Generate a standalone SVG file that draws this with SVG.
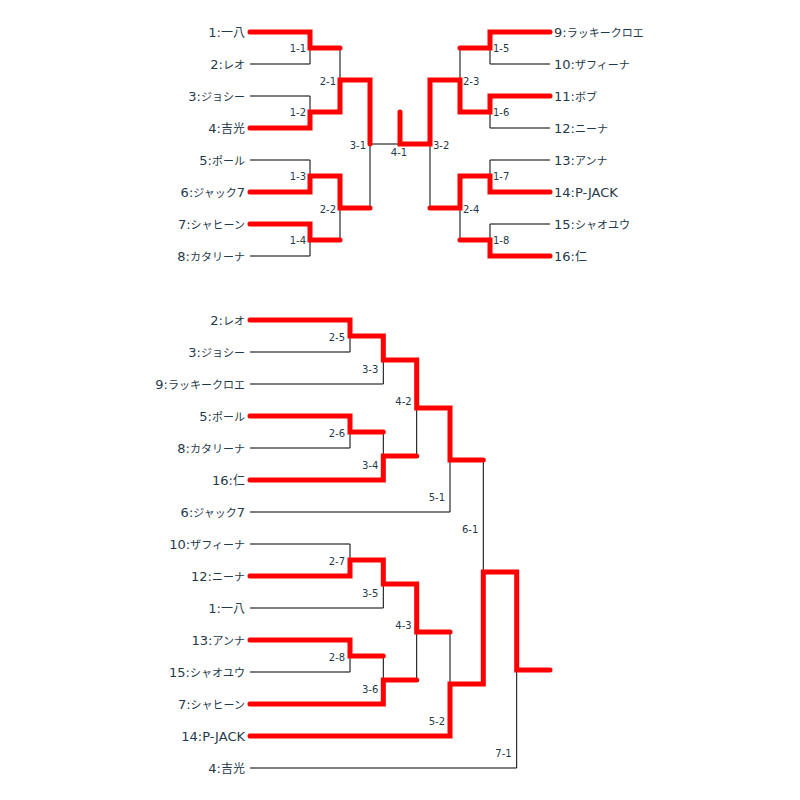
<svg xmlns="http://www.w3.org/2000/svg" width="800" height="800" viewBox="0 0 800 800">
<style>
.bg{fill:#ffffff}
.ln{fill:none;stroke:#000000;stroke-width:1}
.win{fill:none;stroke:#ff0000;stroke-width:5;stroke-linecap:round;stroke-linejoin:miter}
.name{font-family:"DejaVu Sans","Noto Sans CJK JP",sans-serif;font-size:13px;fill:#1f3a4a}
.k{font-family:"Noto Sans CJK JP",sans-serif;font-size:11px}
.kj{font-family:"Noto Sans CJK JP",sans-serif;font-size:12px}
.l{text-anchor:end}
.r{text-anchor:start}
.m{font-family:"DejaVu Sans",sans-serif;font-size:10px;fill:#1f3a4a}
.me{text-anchor:end}
.mc{text-anchor:middle}
</style>
<rect class="bg" x="0" y="0" width="800" height="800"/>

<g id="connectors">
  <!-- top bracket structure -->
  <path class="ln" d="M250,32H310V64H250 M250,96H310V128H250 M250,160H310V192H250 M250,224H310V256H250"/>
  <path class="ln" d="M310,48H340V112H310 M310,176H340V240H310 M340,80H370V208H340 M370,144H430"/>
  <path class="ln" d="M550,32H490V64H550 M550,96H490V128H550 M550,160H490V192H550 M550,224H490V256H550"/>
  <path class="ln" d="M490,48H460V112H490 M490,176H460V240H490 M460,80H430V208H460"/>
  <!-- bottom bracket structure -->
  <path class="ln" d="M250,320H350V352H250 M350,336H383.3V384H250 M250,416H350V448H250 M350,432H383.3V480H250 M383.3,360H416.7V456H383.3 M416.7,408H450V512H250"/>
  <path class="ln" d="M250,544H350V576H250 M350,560H383.3V608H250 M250,640H350V672H250 M350,656H383.3V704H250 M383.3,584H416.7V680H383.3 M416.7,632H450V736H250"/>
  <path class="ln" d="M450,460H483.3V684H450 M483.3,572H516.7V768H250"/>
  <!-- winners top -->
  <path class="win" d="M250,32H310V48H340"/>
  <path class="win" d="M250,128H310V112H340V80H370V144"/>
  <path class="win" d="M250,192H310V176H340V208H370"/>
  <path class="win" d="M250,224H310V240H340"/>
  <path class="win" d="M550,32H490V48H460"/>
  <path class="win" d="M550,96H490V112H460V80H430V144H400V112"/>
  <path class="win" d="M550,192H490V176H460V208H430"/>
  <path class="win" d="M550,256H490V240H460"/>
  <!-- winners bottom -->
  <path class="win" d="M250,320H350V336H383.3V360H416.7V408H450V460H483.3"/>
  <path class="win" d="M250,416H350V432H383.3"/>
  <path class="win" d="M250,480H383.3V456H416.7"/>
  <path class="win" d="M250,576H350V560H383.3V584H416.7V632H450"/>
  <path class="win" d="M250,640H350V656H383.3"/>
  <path class="win" d="M250,704H383.3V680H416.7"/>
  <path class="win" d="M250,736H450V684H483.3V572H516.7V670H550"/>
</g>

<g id="match-labels">
  <text class="m me" x="306" y="52">1-1</text>
  <text class="m me" x="306" y="116">1-2</text>
  <text class="m me" x="306" y="180">1-3</text>
  <text class="m me" x="306" y="244">1-4</text>
  <text class="m me" x="336" y="84.5">2-1</text>
  <text class="m me" x="336" y="212.5">2-2</text>
  <text class="m me" x="366" y="148.5">3-1</text>
  <text class="m mc" x="399" y="155.5">4-1</text>
  <text class="m" x="493" y="52">1-5</text>
  <text class="m" x="493" y="116">1-6</text>
  <text class="m" x="493" y="180">1-7</text>
  <text class="m" x="493" y="244">1-8</text>
  <text class="m" x="463" y="84.5">2-3</text>
  <text class="m" x="463" y="212.5">2-4</text>
  <text class="m" x="433" y="148.5">3-2</text>

  <text class="m me" x="345" y="340.5">2-5</text>
  <text class="m me" x="378.3" y="372.5">3-3</text>
  <text class="m me" x="411.7" y="404.5">4-2</text>
  <text class="m me" x="345" y="436.5">2-6</text>
  <text class="m me" x="378.3" y="468.5">3-4</text>
  <text class="m me" x="445" y="500.5">5-1</text>
  <text class="m me" x="478.3" y="532.5">6-1</text>
  <text class="m me" x="345" y="564.5">2-7</text>
  <text class="m me" x="378.3" y="596.5">3-5</text>
  <text class="m me" x="411.7" y="628.5">4-3</text>
  <text class="m me" x="345" y="660.5">2-8</text>
  <text class="m me" x="378.3" y="692.5">3-6</text>
  <text class="m me" x="445" y="724.5">5-2</text>
  <text class="m me" x="511.7" y="756.5">7-1</text>
</g>

<g id="top-left-players">
  <g id="p-t1"><text class="name l" x="245" y="37">1:<tspan class="kj">一八</tspan></text></g>
  <g id="p-t2"><text class="name l" x="245" y="37" dy="32">2:<tspan class="k">レオ</tspan></text></g>
  <g id="p-t3"><text class="name l" x="245" y="101">3:<tspan class="k">ジョシー</tspan></text></g>
  <g id="p-t4"><text class="name l" x="245" y="133">4:<tspan class="kj">吉光</tspan></text></g>
  <g id="p-t5"><text class="name l" x="245" y="165">5:<tspan class="k">ポール</tspan></text></g>
  <g id="p-t6"><text class="name l" x="245" y="197">6:<tspan class="k">ジャック</tspan>7</text></g>
  <g id="p-t7"><text class="name l" x="245" y="229">7:<tspan class="k">シャヒーン</tspan></text></g>
  <g id="p-t8"><text class="name l" x="245" y="261">8:<tspan class="k">カタリーナ</tspan></text></g>
</g>
<g id="top-right-players">
  <g id="p-t9"><text class="name r" x="554" y="37">9:<tspan class="k">ラッキークロエ</tspan></text></g>
  <g id="p-t10"><text class="name r" x="554" y="69">10:<tspan class="k">ザフィーナ</tspan></text></g>
  <g id="p-t11"><text class="name r" x="554" y="101">11:<tspan class="k">ボブ</tspan></text></g>
  <g id="p-t12"><text class="name r" x="554" y="133">12:<tspan class="k">ニーナ</tspan></text></g>
  <g id="p-t13"><text class="name r" x="554" y="165">13:<tspan class="k">アンナ</tspan></text></g>
  <g id="p-t14"><text class="name r" x="554" y="197">14:P-JACK</text></g>
  <g id="p-t15"><text class="name r" x="554" y="229">15:<tspan class="k">シャオユウ</tspan></text></g>
  <g id="p-t16"><text class="name r" x="554" y="261">16:<tspan class="kj">仁</tspan></text></g>
</g>
<g id="bottom-players">
  <g id="p-b1"><text class="name l" x="245" y="325">2:<tspan class="k">レオ</tspan></text></g>
  <g id="p-b2"><text class="name l" x="245" y="357">3:<tspan class="k">ジョシー</tspan></text></g>
  <g id="p-b3"><text class="name l" x="245" y="389">9:<tspan class="k">ラッキークロエ</tspan></text></g>
  <g id="p-b4"><text class="name l" x="245" y="421">5:<tspan class="k">ポール</tspan></text></g>
  <g id="p-b5"><text class="name l" x="245" y="453">8:<tspan class="k">カタリーナ</tspan></text></g>
  <g id="p-b6"><text class="name l" x="245" y="485">16:<tspan class="kj">仁</tspan></text></g>
  <g id="p-b7"><text class="name l" x="245" y="517">6:<tspan class="k">ジャック</tspan>7</text></g>
  <g id="p-b8"><text class="name l" x="245" y="549">10:<tspan class="k">ザフィーナ</tspan></text></g>
  <g id="p-b9"><text class="name l" x="245" y="581">12:<tspan class="k">ニーナ</tspan></text></g>
  <g id="p-b10"><text class="name l" x="245" y="613">1:<tspan class="kj">一八</tspan></text></g>
  <g id="p-b11"><text class="name l" x="245" y="645">13:<tspan class="k">アンナ</tspan></text></g>
  <g id="p-b12"><text class="name l" x="245" y="677">15:<tspan class="k">シャオユウ</tspan></text></g>
  <g id="p-b13"><text class="name l" x="245" y="709">7:<tspan class="k">シャヒーン</tspan></text></g>
  <g id="p-b14"><text class="name l" x="245" y="741">14:P-JACK</text></g>
  <g id="p-b15"><text class="name l" x="245" y="773">4:<tspan class="kj">吉光</tspan></text></g>
</g>
</svg>
